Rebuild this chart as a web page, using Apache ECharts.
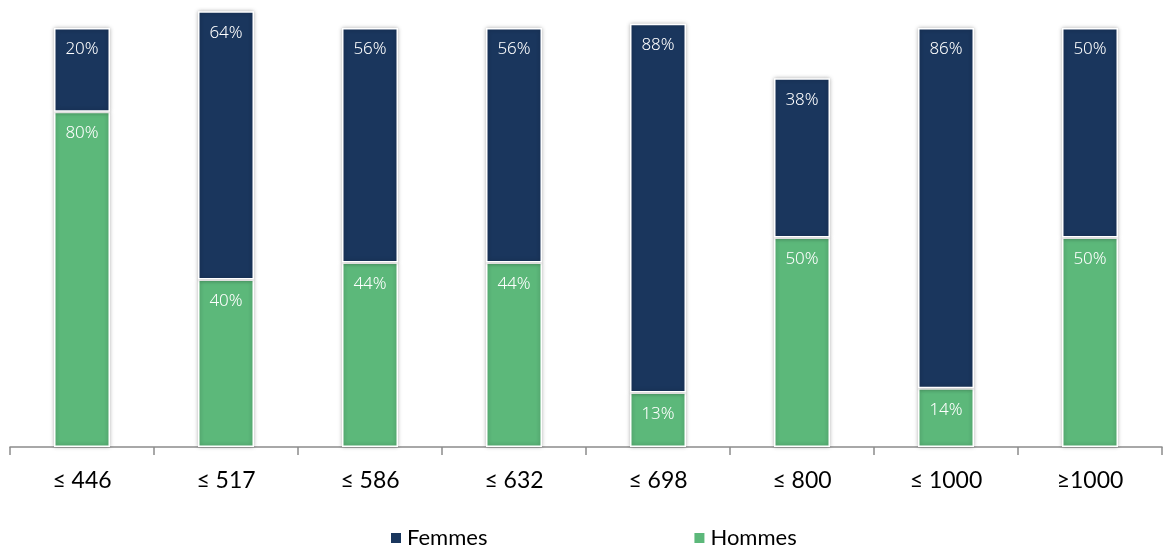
<!DOCTYPE html>
<html>
<head>
<meta charset="utf-8">
<script src="https://cdn.jsdelivr.net/npm/echarts@6/dist/echarts.min.js"></script>
<style>
  html, body { margin: 0; padding: 0; background: #fff; }
  #chart { width: 1166px; height: 547px; }
</style>
</head>
<body>
<div id="chart"></div>
<script>
const categories = ['≤ 446', '≤ 517', '≤ 586', '≤ 632', '≤ 698', '≤ 800', '≤ 1000', '≥1000']
const hommes = [80, 40, 44, 44, 13, 50, 14, 50]
const femmes = [20, 64, 56, 56, 88, 38, 86, 50]

const chart = echarts.init(document.getElementById('chart'))

const segStyle = (color) => ({
  color: color,
  borderColor: '#ffffff',
  borderWidth: 1.5,
  shadowColor: 'rgba(0, 0, 0, 0.3)',
  shadowBlur: 4
})

const segLabel = {
  show: true,
  position: 'insideTop',
  distance: 13,
  color: '#ffffff',
  fontSize: 17,
  fontFamily: 'Noto Sans',
  fontWeight: 300,
  formatter: (p) => p.value + '%'
}

const option = {
  animation: false,
  grid: { left: 10, right: 4, top: 7, bottom: 100 },
  legend: {
    data: ['Femmes', 'Hommes'],
    left: 384,
    top: 522,
    itemWidth: 12,
    itemHeight: 12,
    itemGap: 205,
    icon: 'rect',
    textStyle: { fontSize: 22, color: '#000', fontFamily: 'Lato' }
  },
  xAxis: {
    type: 'category',
    data: categories,
    axisLine: { lineStyle: { color: '#8c8c8c', width: 1.5 } },
    axisTick: { show: true, length: 8, lineStyle: { color: '#8c8c8c', width: 1.5 } },
    axisLabel: { fontSize: 23, color: '#000', margin: 22, fontFamily: 'Lato' }
  },
  yAxis: {
    type: 'value',
    min: 0,
    max: 105,
    show: false,
    splitLine: { show: false }
  },
  series: [
    {
      name: 'Hommes',
      type: 'bar',
      stack: 'total',
      barWidth: 56,
      data: hommes,
      itemStyle: segStyle('#5cb87a'),
      label: segLabel
    },
    {
      name: 'Femmes',
      type: 'bar',
      stack: 'total',
      barWidth: 56,
      data: femmes,
      itemStyle: segStyle('#1a365d'),
      label: segLabel
    }
  ]
}

chart.setOption(option)
</script>
</body>
</html>
